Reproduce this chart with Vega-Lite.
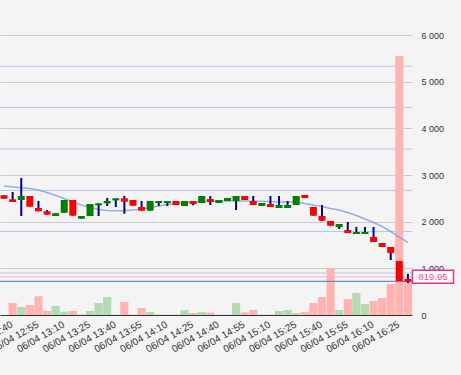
{
  "$schema": "https://vega.github.io/schema/vega-lite/v6.json",
  "width": 412,
  "height": 315,
  "autosize": {"type": "none"},
  "padding": {"left": 0, "top": 0, "right": 49, "bottom": 60},
  "background": "#f4f4f4",
  "config": {"view": {"stroke": null}, "font": "Liberation Sans"},
  "datasets": {
    "candles": [
      {"t": "06/04 12:35", "o": 2565, "h": 2565, "l": 2492, "c": 2492, "v": 0, "ma": 2764},
      {"t": "06/04 12:40", "o": 2479, "h": 2636, "l": 2421, "c": 2421, "v": 257, "ma": 2743},
      {"t": "06/04 12:45", "o": 2464, "h": 2936, "l": 2121, "c": 2550, "v": 171, "ma": 2726},
      {"t": "06/04 12:50", "o": 2550, "h": 2550, "l": 2321, "c": 2321, "v": 214, "ma": 2711},
      {"t": "06/04 12:55", "o": 2293, "h": 2443, "l": 2222, "c": 2222, "v": 400, "ma": 2678},
      {"t": "06/04 13:00", "o": 2222, "h": 2250, "l": 2150, "c": 2150, "v": 86, "ma": 2625},
      {"t": "06/04 13:05", "o": 2121, "h": 2179, "l": 2121, "c": 2179, "v": 193, "ma": 2561},
      {"t": "06/04 13:10", "o": 2192, "h": 2464, "l": 2192, "c": 2464, "v": 71, "ma": 2496},
      {"t": "06/04 13:15", "o": 2464, "h": 2464, "l": 2128, "c": 2128, "v": 86, "ma": 2421},
      {"t": "06/04 13:20", "o": 2064, "h": 2121, "l": 2064, "c": 2121, "v": 10, "ma": 2357},
      {"t": "06/04 13:25", "o": 2121, "h": 2379, "l": 2121, "c": 2379, "v": 86, "ma": 2304},
      {"t": "06/04 13:30", "o": 2350, "h": 2393, "l": 2121, "c": 2393, "v": 257, "ma": 2261},
      {"t": "06/04 13:35", "o": 2393, "h": 2507, "l": 2336, "c": 2443, "v": 386, "ma": 2239},
      {"t": "06/04 13:40", "o": 2457, "h": 2500, "l": 2314, "c": 2500, "v": 10, "ma": 2235},
      {"t": "06/04 13:45", "o": 2500, "h": 2550, "l": 2171, "c": 2428, "v": 279, "ma": 2237},
      {"t": "06/04 13:50", "o": 2464, "h": 2464, "l": 2342, "c": 2342, "v": 10, "ma": 2250},
      {"t": "06/04 13:55", "o": 2314, "h": 2443, "l": 2236, "c": 2236, "v": 150, "ma": 2271},
      {"t": "06/04 14:00", "o": 2236, "h": 2443, "l": 2236, "c": 2443, "v": 64, "ma": 2304},
      {"t": "06/04 14:05", "o": 2400, "h": 2443, "l": 2336, "c": 2443, "v": 10, "ma": 2336},
      {"t": "06/04 14:10", "o": 2400, "h": 2443, "l": 2336, "c": 2443, "v": 10, "ma": 2368},
      {"t": "06/04 14:15", "o": 2443, "h": 2443, "l": 2357, "c": 2357, "v": 10, "ma": 2396},
      {"t": "06/04 14:20", "o": 2336, "h": 2443, "l": 2336, "c": 2443, "v": 107, "ma": 2411},
      {"t": "06/04 14:25", "o": 2443, "h": 2443, "l": 2350, "c": 2379, "v": 43, "ma": 2421},
      {"t": "06/04 14:30", "o": 2400, "h": 2550, "l": 2400, "c": 2550, "v": 64, "ma": 2428},
      {"t": "06/04 14:35", "o": 2486, "h": 2550, "l": 2357, "c": 2421, "v": 50, "ma": 2436},
      {"t": "06/04 14:40", "o": 2400, "h": 2464, "l": 2400, "c": 2464, "v": 10, "ma": 2443},
      {"t": "06/04 14:45", "o": 2443, "h": 2507, "l": 2443, "c": 2507, "v": 10, "ma": 2443},
      {"t": "06/04 14:50", "o": 2443, "h": 2550, "l": 2250, "c": 2550, "v": 257, "ma": 2443},
      {"t": "06/04 14:55", "o": 2550, "h": 2550, "l": 2464, "c": 2464, "v": 57, "ma": 2443},
      {"t": "06/04 15:00", "o": 2443, "h": 2550, "l": 2357, "c": 2357, "v": 107, "ma": 2438},
      {"t": "06/04 15:05", "o": 2336, "h": 2400, "l": 2336, "c": 2400, "v": 10, "ma": 2436},
      {"t": "06/04 15:10", "o": 2379, "h": 2550, "l": 2314, "c": 2314, "v": 10, "ma": 2428},
      {"t": "06/04 15:15", "o": 2293, "h": 2550, "l": 2293, "c": 2357, "v": 86, "ma": 2421},
      {"t": "06/04 15:20", "o": 2293, "h": 2443, "l": 2293, "c": 2357, "v": 107, "ma": 2421},
      {"t": "06/04 15:25", "o": 2357, "h": 2550, "l": 2357, "c": 2550, "v": 43, "ma": 2415},
      {"t": "06/04 15:30", "o": 2571, "h": 2571, "l": 2507, "c": 2507, "v": 64, "ma": 2389},
      {"t": "06/04 15:35", "o": 2314, "h": 2314, "l": 2128, "c": 2128, "v": 257, "ma": 2357},
      {"t": "06/04 15:40", "o": 2121, "h": 2357, "l": 2014, "c": 2021, "v": 386, "ma": 2325},
      {"t": "06/04 15:45", "o": 2014, "h": 2014, "l": 1914, "c": 1914, "v": 1000, "ma": 2282},
      {"t": "06/04 15:50", "o": 1886, "h": 1950, "l": 1843, "c": 1950, "v": 107, "ma": 2250},
      {"t": "06/04 15:55", "o": 1821, "h": 1993, "l": 1757, "c": 1757, "v": 343, "ma": 2196},
      {"t": "06/04 16:00", "o": 1736, "h": 1886, "l": 1736, "c": 1779, "v": 471, "ma": 2132},
      {"t": "06/04 16:05", "o": 1736, "h": 1886, "l": 1736, "c": 1779, "v": 236, "ma": 2057},
      {"t": "06/04 16:10", "o": 1671, "h": 1886, "l": 1564, "c": 1564, "v": 300, "ma": 1982},
      {"t": "06/04 16:15", "o": 1543, "h": 1543, "l": 1457, "c": 1457, "v": 364, "ma": 1896},
      {"t": "06/04 16:20", "o": 1457, "h": 1457, "l": 1179, "c": 1329, "v": 664, "ma": 1789},
      {"t": "06/04 16:25", "o": 1157, "h": 1157, "l": 729, "c": 729, "v": 5550, "ma": 1671},
      {"t": "06/04 16:30", "o": 771, "h": 879, "l": 686, "c": 714, "v": 720, "ma": 1558}
    ],
    "bluegrid": [{"g": 900}, {"g": 1790}, {"g": 2670}, {"g": 3555}, {"g": 4445}, {"g": 5330}],
    "last": [{"p": 819.95}],
    "ref": [{"r": 722}]
  },
  "layer": [
    {
      "data": {"name": "bluegrid"},
      "mark": {"type": "rule", "color": "#b4c7e7", "strokeWidth": 1},
      "encoding": {
        "y": {"field": "g", "type": "quantitative", "title": null,
              "scale": {"domain": [0, 6750], "nice": false, "zero": true},
              "axis": {"orient": "right", "values": [0, 1000, 2000, 3000, 4000, 5000, 6000],
                       "labelExpr": "replace(format(datum.value, ','), ',', ' ')",
                       "labelFontSize": 9, "labelColor": "#333333", "ticks": false, "domain": false,
                       "labelPadding": 9, "grid": true, "gridColor": "#cccccc", "gridWidth": 1, "title": null}}
      }
    },
    {
      "data": {"name": "candles"},
      "mark": {"type": "bar"},
      "encoding": {
        "x": {"field": "t", "type": "ordinal", "sort": null, "title": null,
              "scale": {"paddingInner": 0.05, "paddingOuter": 0},
              "axis": {"values": ["06/04 12:40", "06/04 12:55", "06/04 13:10", "06/04 13:25", "06/04 13:40", "06/04 13:55", "06/04 14:10", "06/04 14:25", "06/04 14:40", "06/04 14:55", "06/04 15:10", "06/04 15:25", "06/04 15:40", "06/04 15:55", "06/04 16:10", "06/04 16:25"],
                       "labelAngle": -30, "labelFontSize": 10, "labelColor": "#333333", "ticks": false,
                       "domainColor": "#333333", "domainWidth": 1, "labelPadding": 4, "labelOffset": -3, "grid": false,
                       "labelOverlap": false, "title": null}},
        "y": {"field": "v", "type": "quantitative", "title": null},
        "color": {"condition": {"test": "datum.c >= datum.o", "value": "#b3dab3"}, "value": "#ffb3b3"}
      }
    },
    {
      "data": {"name": "ref"},
      "mark": {"type": "rule", "color": "#4a72d0", "strokeWidth": 1},
      "encoding": {"y": {"field": "r", "type": "quantitative", "title": null}}
    },
    {
      "data": {"name": "last"},
      "mark": {"type": "rule", "color": "#ffaad2", "strokeWidth": 1},
      "encoding": {"y": {"field": "p", "type": "quantitative", "title": null}}
    },
    {
      "data": {"name": "candles"},
      "mark": {"type": "line", "color": "#809ce0", "strokeWidth": 1.5, "opacity": 0.8},
      "encoding": {
        "x": {"field": "t", "type": "ordinal", "sort": null, "title": null},
        "y": {"field": "ma", "type": "quantitative", "title": null}
      }
    },
    {
      "data": {"name": "candles"},
      "mark": {"type": "rule", "color": "#00008b", "strokeWidth": 2},
      "encoding": {
        "x": {"field": "t", "type": "ordinal", "sort": null, "title": null},
        "y": {"field": "l", "type": "quantitative", "title": null},
        "y2": {"field": "h"}
      }
    },
    {
      "data": {"name": "candles"},
      "mark": {"type": "bar", "size": 7},
      "encoding": {
        "x": {"field": "t", "type": "ordinal", "sort": null, "title": null},
        "y": {"field": "o", "type": "quantitative", "title": null},
        "y2": {"field": "c"},
        "color": {"condition": {"test": "datum.c >= datum.o", "value": "#008000"}, "value": "#ff0000"}
      }
    },
    {
      "data": {"name": "last"},
      "mark": {"type": "point", "filled": false, "shape": "M-1,-0.317L1,-0.317L1,0.317L-1,0.317Z", "size": 1681, "fill": "#ffffff", "fillOpacity": 1, "stroke": "#e2338c", "strokeWidth": 1.5, "opacity": 1, "xOffset": 21},
      "encoding": {
        "x": {"value": "width"},
        "y": {"field": "p", "type": "quantitative", "title": null}
      }
    },
    {
      "data": {"name": "last"},
      "mark": {"type": "text", "align": "center", "baseline": "middle", "fontSize": 9.5, "color": "#ff3f9f", "xOffset": 21},
      "encoding": {
        "x": {"value": "width"},
        "y": {"field": "p", "type": "quantitative", "title": null},
        "text": {"field": "p", "type": "quantitative", "format": ".2f"}
      }
    }
  ]
}
